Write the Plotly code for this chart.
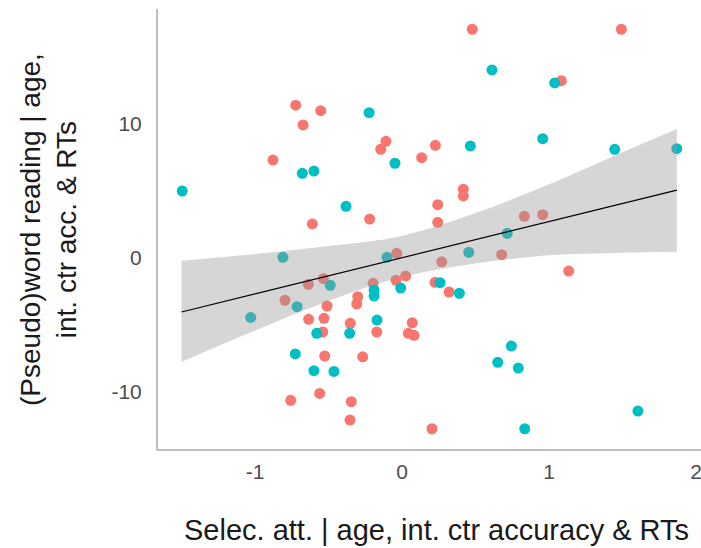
import plotly.graph_objects as go

# Partial residuals, group A (salmon)
a_x = [-0.723, -0.553, -0.673, -0.109, -0.145, -0.878, 0.134, 0.227, -0.610, -0.220,
       0.478, 1.492, 1.084, 0.417, 0.417, 0.243, 0.243, 0.832, 0.957, -0.036,
       -0.637, -0.535, -0.197, -0.041, 0.025, -0.301, -0.308, -0.796, -0.510, -0.635,
       -0.531, -0.352, 0.070, -0.539, -0.172, 0.043, 0.082, -0.526, -0.267, -0.757,
       -0.560, -0.345, -0.354, 0.204, 0.678, 0.270, 1.134, 0.224, 0.320]
a_y = [11.40, 10.99, 9.93, 8.71, 8.11, 7.31, 7.49, 8.41, 2.54, 2.91,
       17.07, 17.07, 13.23, 5.13, 4.63, 3.98, 2.66, 3.11, 3.23, 0.35,
       -1.96, -1.54, -1.89, -1.66, -1.34, -2.89, -3.43, -3.16, -3.58, -4.57,
       -4.50, -4.87, -4.83, -5.52, -5.52, -5.62, -5.77, -7.31, -7.37, -10.62,
       -10.10, -10.72, -12.09, -12.74, 0.25, -0.28, -0.97, -1.81, -2.54]

# Partial residuals, group B (teal)
b_x = [-1.495, -0.224, -0.048, -0.678, -0.599, -0.381, 0.612, 1.039, 0.465, 0.957,
       1.447, 1.869, 0.716, -0.810, -0.102, -0.488, -0.009, -0.190, -0.190, -0.714,
       -1.029, -0.170, -0.580, -0.356, -0.726, -0.599, -0.463, 0.454, 0.259, 0.390,
       0.744, 0.651, 0.791, 1.605, 0.835]
b_y = [5.00, 10.84, 7.07, 6.32, 6.49, 3.86, 14.03, 13.06, 8.36, 8.90,
       8.11, 8.16, 1.84, 0.05, 0.05, -2.04, -2.24, -2.39, -2.84, -3.63,
       -4.43, -4.63, -5.62, -5.62, -7.16, -8.41, -8.46, 0.43, -1.84, -2.63,
       -6.57, -7.78, -8.21, -11.42, -12.74]

# Linear fit and its 95% confidence band
fit_x = [-1.5, 1.87]
fit_y = [-4.03, 5.07]
band_x = [-1.5, -1.0, -0.5, 0.0, 0.5, 1.0, 1.5, 1.87]
band_lo = [-7.74, -5.40, -3.20, -1.40, -0.40, 0.20, 0.40, 0.47]
band_hi = [-0.20, 0.30, 0.90, 1.65, 3.35, 5.50, 7.90, 9.63]

x_ticks = [-1, 0, 1, 2]
x_labels = ["-1", "0", "1", "2"]
y_ticks = [-10, 0, 10]
y_labels = ["-10", "0", "10"]

SALMON = "#F8766D"
TEAL = "#00BFC4"
FONT = "Liberation Sans, Arial, sans-serif"

fig = go.Figure()
fig.add_trace(go.Scatter(x=a_x, y=a_y, mode="markers",
                         marker=dict(color=SALMON, size=11, line=dict(width=0)),
                         showlegend=False, hoverinfo="skip"))
fig.add_trace(go.Scatter(x=b_x, y=b_y, mode="markers",
                         marker=dict(color=TEAL, size=11, line=dict(width=0)),
                         showlegend=False, hoverinfo="skip"))
# confidence ribbon drawn over the points
fig.add_trace(go.Scatter(x=band_x, y=band_lo, mode="lines",
                         line=dict(width=0, shape="spline"),
                         showlegend=False, hoverinfo="skip"))
fig.add_trace(go.Scatter(x=band_x, y=band_hi, mode="lines",
                         line=dict(width=0, shape="spline"),
                         fill="tonexty", fillcolor="rgba(153,153,153,0.4)",
                         showlegend=False, hoverinfo="skip"))
fig.add_trace(go.Scatter(x=fit_x, y=fit_y, mode="lines",
                         line=dict(color="black", width=1.2),
                         showlegend=False, hoverinfo="skip"))

axis_font = dict(family=FONT, size=21, color="#4D4D4D")

fig.update_layout(
    width=701, height=548,
    margin=dict(l=158, r=0, t=9, b=99),
    paper_bgcolor="white", plot_bgcolor="white",
    xaxis=dict(range=[-1.660, 2.034], tickvals=x_ticks, ticktext=x_labels,
               showgrid=False, zeroline=False,
               showline=True, linecolor="#BEBEBE", linewidth=2, ticks="",
               tickfont=axis_font, ticklabelstandoff=3, ticklabeloverflow="allow",
               automargin=False),
    yaxis=dict(range=[-14.25, 18.58], tickvals=y_ticks, ticktext=y_labels,
               showgrid=False, zeroline=False,
               showline=True, linecolor="#BEBEBE", linewidth=2, ticks="",
               tickfont=axis_font, ticklabelstandoff=10, ticklabeloverflow="allow",
               automargin=False),
    annotations=[
        dict(text="Selec. att. | age, int. ctr accuracy & RTs", xref="paper", yref="paper",
             x=0.512, y=-0.184, xanchor="center", yanchor="middle", showarrow=False,
             font=dict(family=FONT, size=29, color="#1A1A1A")),
        dict(text="(Pseudo)word reading | age,<br>int. ctr acc. & RTs", xref="paper", yref="paper",
             x=-0.2026, y=0.5, xanchor="center", yanchor="middle", textangle=-90,
             showarrow=False,
             font=dict(family=FONT, size=28, color="#1A1A1A")),
    ],
)

fig.write_html("out.html")
